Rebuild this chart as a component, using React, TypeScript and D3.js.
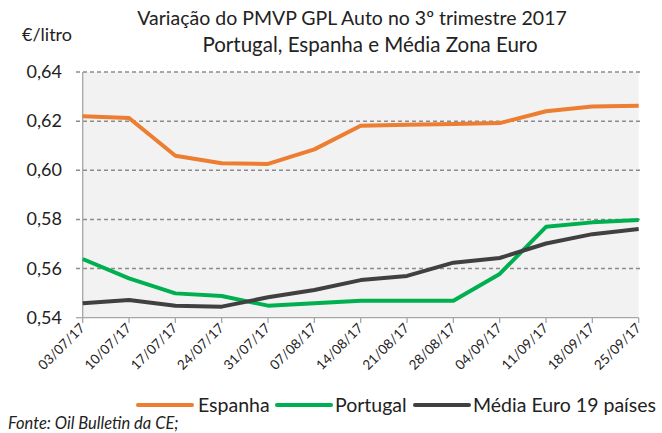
import React from "react";
import * as d3 from "d3";

const dates = [
  "03/07/17", "10/07/17", "17/07/17", "24/07/17", "31/07/17", "07/08/17", "14/08/17",
  "21/08/17", "28/08/17", "04/09/17", "11/09/17", "18/09/17", "25/09/17",
];
const espanha = [0.622, 0.6213, 0.6059, 0.6029, 0.6026, 0.6085, 0.6181, 0.6185, 0.6188, 0.6192, 0.624, 0.626, 0.6263];
const portugal = [0.5639, 0.556, 0.5499, 0.5488, 0.5449, 0.5459, 0.5469, 0.5469, 0.5469, 0.5578, 0.577, 0.5788, 0.5798];
const mediaEuro = [0.5459, 0.5472, 0.5449, 0.5445, 0.5483, 0.5513, 0.5553, 0.557, 0.5624, 0.5643, 0.5702, 0.574, 0.5761];
const yTicks = [0.54, 0.56, 0.58, 0.6, 0.62, 0.64];

const series = [
  { name: "Espanha", values: espanha, color: "#ED7D31" },
  { name: "Portugal", values: portugal, color: "#00B050" },
  { name: "Média Euro 19 países", values: mediaEuro, color: "#404040" },
];

const W = 662;
const H = 433;
const FONT = "Lato, 'Open Sans', sans-serif";

export default function App() {
  const x = d3.scalePoint<string>().domain(dates).range([82.7, 638.7]);
  const y = d3.scaleLinear().domain([0.54, 0.64]).range([317.7, 72]);
  const line = d3
    .line<number>()
    .x((_, i) => x(dates[i]) as number)
    .y((d) => y(d));
  const fmt = (v: number) => v.toFixed(2).replace(".", ",");

  // legend layout (line swatch start + label start)
  const legend = [
    { lx: 138, tx: 198 },
    { lx: 277, tx: 335 },
    { lx: 415, tx: 473 },
  ];

  return (
    <svg
      width={W}
      height={H}
      style={{ position: "absolute", left: 0, top: 0, fontFamily: FONT }}
    >
      <rect width={W} height={H} fill="#fff" />
      <text x={352} y={25} textAnchor="middle" fontSize={19.5} fill="#222">
        Variação do PMVP GPL Auto no 3º trimestre 2017
      </text>
      <text x={370} y={52} textAnchor="middle" fontSize={20.5} fill="#222">
        Portugal, Espanha e Média Zona Euro
      </text>
      <text x={22} y={41} fontSize={18} fill="#222">€/litro</text>

      <rect x={82.7} y={72} width={556} height={245.7} fill="#f2f2f2" />

      {yTicks.map((t) => (
        <g key={t}>
          {t > 0.54 && (
            <line
              x1={76}
              x2={640}
              y1={y(t)}
              y2={y(t)}
              stroke="#8c8c8c"
              strokeWidth={1.5}
              strokeDasharray="4,3"
            />
          )}
          {t === 0.54 && (
            <line x1={76} x2={82.7} y1={y(t)} y2={y(t)} stroke="#a6a6a6" strokeWidth={1.3} />
          )}
          <text x={62} y={y(t) + 6} textAnchor="end" fontSize={18} fill="#222">
            {fmt(t)}
          </text>
        </g>
      ))}

      <line x1={82.7} x2={82.7} y1={72} y2={317.7} stroke="#a6a6a6" strokeWidth={1.3} />
      <line x1={82.7} x2={638.7} y1={317.7} y2={317.7} stroke="#a6a6a6" strokeWidth={1.3} />
      {dates.map((d) => (
        <g key={d}>
          <line
            x1={x(d)}
            x2={x(d)}
            y1={317.7}
            y2={323}
            stroke="#a6a6a6"
            strokeWidth={1.3}
          />
          <text
            transform={`translate(${(x(d) as number) + 3},${329}) rotate(-45)`}
            textAnchor="end"
            fontSize={13.5}
            fill="#222"
          >
            {d}
          </text>
        </g>
      ))}

      {series.map((s) => (
        <path
          key={s.name}
          d={line(s.values) as string}
          fill="none"
          stroke={s.color}
          strokeWidth={4}
          strokeLinejoin="round"
        />
      ))}

      {series.map((s, i) => (
        <g key={s.name}>
          <line
            x1={legend[i].lx}
            x2={legend[i].lx + 54}
            y1={405}
            y2={405}
            stroke={s.color}
            strokeWidth={4}
            strokeLinecap="round"
          />
          <text x={legend[i].tx} y={412} fontSize={19.5} fill="#222">
            {s.name}
          </text>
        </g>
      ))}

      <text x={8} y={429} fontSize={16.5} fontStyle="italic" fill="#222">
        Fonte: Oil Bulletin da CE;
      </text>
    </svg>
  );
}
